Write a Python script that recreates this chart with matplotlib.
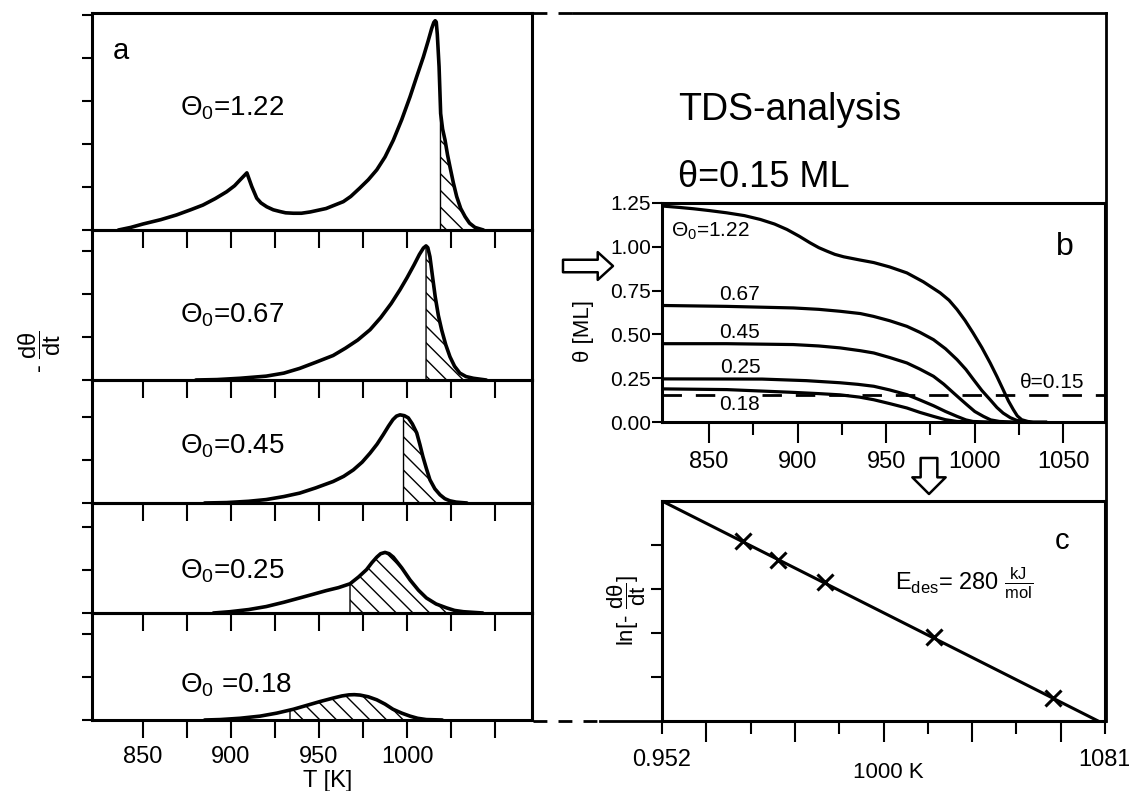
import numpy as np
import matplotlib.pyplot as plt
from matplotlib.lines import Line2D
from matplotlib.patches import FancyArrowPatch

plt.rcParams['font.family'] = ['Liberation Sans', 'DejaVu Sans']
plt.rcParams['mathtext.default'] = 'regular'
plt.rcParams['hatch.linewidth'] = 1.0

W, H = 1129, 791

# --- panel a: TDS spectra, -dθ/dt (arb. units) vs T [K]
coverages = ['1.22', '0.67', '0.45', '0.25', '0.18']
spec_T = [
    [836, 843, 850, 860, 869, 877, 884, 891, 897.5, 902, 905, 909, 911.8, 914.6, 917, 920.3, 924,
     927.8, 931, 935.4, 940, 945, 954, 963.8, 968, 973, 978, 982.8, 987.5, 992.2, 997, 1001.7,
     1005.5, 1009.3, 1012, 1014, 1015.2, 1016, 1016.6, 1017.2, 1018.2, 1019.1, 1020.2, 1021.6,
     1023, 1024.4, 1026.3, 1028.2, 1030.5, 1033, 1035.5, 1038.6, 1043.4],
    [880, 892, 905, 920, 930, 939, 948, 958, 965, 972, 979, 985, 991, 996, 1000, 1004, 1007,
     1009.3, 1010.8, 1011.8, 1013, 1014.5, 1016, 1017.8, 1019.7, 1022, 1024.4, 1027, 1030,
     1033.5, 1037.7, 1045],
    [885, 897.5, 910, 920, 930, 939, 948, 958, 964, 969.5, 974.5, 979, 983, 986.5, 989.5, 992,
     994, 996, 998.5, 1000.7, 1003, 1005.5, 1007.3, 1009, 1011, 1013, 1015.8, 1018.75, 1021.5,
     1024.4, 1028, 1034],
    [890, 899.4, 910, 920, 930, 939, 947, 954, 961, 967.6, 972.5, 977, 980, 982.8, 985, 987.5,
     989.8, 992.2, 997, 1001.7, 1006.5, 1011, 1016.5, 1022.4, 1027, 1032, 1043],
    [885, 893.8, 905, 916.5, 926, 935.4, 943, 950.6, 958, 963, 967, 970, 973.3, 978, 982.8,
     987.5, 992, 997, 1001.7, 1006, 1011, 1020],
]
spec_y = [
    [0, 0.06, 0.14, 0.24, 0.35, 0.47, 0.58, 0.73, 0.89, 1.03, 1.16, 1.33, 1.01, 0.74, 0.63, 0.54,
     0.47, 0.43, 0.40, 0.39, 0.39, 0.42, 0.50, 0.66, 0.78, 0.97, 1.17, 1.40, 1.70, 2.09, 2.57,
     3.10, 3.57, 4.03, 4.40, 4.69, 4.83, 4.87, 4.84, 4.55, 3.80, 2.71, 2.35, 2.09, 1.75, 1.47,
     1.10, 0.78, 0.50, 0.31, 0.16, 0.06, 0],
    [0, 0.01, 0.04, 0.09, 0.16, 0.27, 0.41, 0.57, 0.74, 0.93, 1.17, 1.45, 1.78, 2.10, 2.38, 2.68,
     2.92, 3.07, 3.12, 3.08, 2.87, 2.40, 1.94, 1.50, 1.16, 0.82, 0.54, 0.32, 0.16, 0.08, 0.04, 0],
    [0, 0.01, 0.04, 0.08, 0.15, 0.23, 0.35, 0.50, 0.62, 0.77, 0.95, 1.16, 1.37, 1.59, 1.79, 1.94,
     2.02, 2.05, 2.03, 1.98, 1.84, 1.63, 1.36, 1.08, 0.80, 0.54, 0.33, 0.19, 0.10, 0.05, 0.02, 0],
    [0, 0.03, 0.08, 0.15, 0.25, 0.35, 0.44, 0.52, 0.59, 0.68, 0.84, 1.01, 1.17, 1.30, 1.38, 1.41,
     1.38, 1.30, 1.05, 0.77, 0.53, 0.35, 0.21, 0.12, 0.06, 0.03, 0],
    [0, 0.01, 0.04, 0.09, 0.16, 0.25, 0.34, 0.43, 0.51, 0.56, 0.585, 0.59, 0.58, 0.54, 0.47,
     0.37, 0.25, 0.16, 0.09, 0.04, 0.01, 0],
]
# temperature where θ has dropped to 0.15 ML (start of hatched part)
hatch_from = [1019, 1010.8, 998, 967.6, 933.5]
panel_top = [5.05, 3.49, 2.86, 2.56, 2.49]

# --- panel b: coverage θ [ML] vs T [K]
cov_T = [
    [824.5, 833, 841.4, 850, 860, 870, 879, 887, 894, 901, 907, 912, 916.6, 921, 926, 935, 943,
     952, 961.7, 971, 980.5, 985.5, 990, 994.5, 999, 1004, 1008.7, 1012.5, 1016, 1019, 1021.8,
     1024, 1026.5, 1030, 1033, 1040],
    [824, 860, 897.6, 912, 924, 935.4, 942.8, 952, 961.7, 969, 976.7, 983.5, 990, 995, 999.3,
     1004, 1008.7, 1012.5, 1016, 1020, 1023.7, 1030],
    [824, 860, 897.6, 912, 924, 935.4, 943, 952, 961.7, 969, 976.7, 982.5, 988, 992, 995.5,
     1000, 1004.9, 1009, 1014, 1022],
    [824, 880, 905, 924, 934, 943, 952, 961.7, 969, 976.7, 983.5, 990, 995, 999, 1008],
    [824, 860, 897.8, 912, 924, 935, 943, 952, 961.7, 969, 976.7, 983.5, 990, 999],
]
cov_theta = [
    [1.232, 1.225, 1.217, 1.207, 1.194, 1.178, 1.156, 1.13, 1.099, 1.06, 1.023, 0.995, 0.975,
     0.957, 0.943, 0.925, 0.91, 0.885, 0.851, 0.80, 0.737, 0.695, 0.642, 0.58, 0.509, 0.425,
     0.337, 0.26, 0.185, 0.12, 0.07, 0.035, 0.013, 0.003, 0, 0],
    [0.665, 0.66, 0.651, 0.643, 0.632, 0.619, 0.603, 0.578, 0.546, 0.512, 0.47, 0.418, 0.356,
     0.30, 0.242, 0.18, 0.127, 0.083, 0.051, 0.025, 0.009, 0],
    [0.447, 0.447, 0.442, 0.434, 0.423, 0.407, 0.394, 0.368, 0.337, 0.302, 0.261, 0.216, 0.166,
     0.13, 0.099, 0.06, 0.032, 0.012, 0.003, 0],
    [0.246, 0.245, 0.236, 0.224, 0.215, 0.204, 0.183, 0.156, 0.126, 0.093, 0.06, 0.032, 0.012,
     0.003, 0],
    [0.189, 0.185, 0.169, 0.162, 0.155, 0.142, 0.127, 0.105, 0.08, 0.055, 0.032, 0.013, 0.003, 0],
]
theta_cut = 0.155

# --- panel c: Arrhenius plot at θ = 0.15 ML
arr_x = [0.9755, 0.9859, 0.9996, 1.0312, 1.0660]
arr_y = [4.10, 3.66, 3.17, 1.92, 0.52]
fit_x = [0.952, 1.079]
fit_y = [5.0, 0.0]


def fx(px):
    return px / W


def fy(py):
    return 1 - py / H


fig = plt.figure(figsize=(W / 100, H / 100), dpi=100)

gs = fig.add_gridspec(5, 1, left=fx(92), right=fx(532), top=fy(13), bottom=fy(720),
                      height_ratios=[217, 150, 123, 110, 107], hspace=0)
label_base = [2.67, 1.33, 1.16, 0.81, 0.63]
xt = np.arange(850, 1051, 25)
for i in range(5):
    ax = fig.add_subplot(gs[i])
    ax.patch.set_visible(False)
    T = np.array(spec_T[i])
    y = np.array(spec_y[i])
    ax.plot(T, y, color='k', lw=2.6, solid_capstyle='round', solid_joinstyle='round', zorder=3)
    tb = hatch_from[i]
    sel = T > tb
    tt = np.concatenate([[tb], T[sel]])
    yy = np.concatenate([[np.interp(tb, T, y)], y[sel]])
    ax.fill_between(tt, yy, 0, facecolor='none', edgecolor='k', hatch='\\\\', lw=1.0, zorder=2)
    ax.set_xlim(821, 1071)
    ax.set_ylim(0, panel_top[i])
    ax.set_yticks(range(0, int(panel_top[i]) + 1))
    ax.tick_params(axis='y', direction='out', length=7, width=1.5, labelleft=False)
    ax.set_xticks(xt)
    ax.tick_params(axis='x', direction='out', length=13, width=1.5, labelbottom=False)
    for s in ax.spines.values():
        s.set_linewidth(2.2)
    lab = 'Θ$_0$ =' + coverages[i] if i == 4 else 'Θ$_0$=' + coverages[i]
    ax.text(871, label_base[i], lab, fontsize=20, va='baseline', ha='left')
    if i == 0:
        ax.text(837.5, 4.16, 'a', fontsize=21, ha='center', va='center')
    if i == 4:
        ax.set_xticks(xt, [str(t) if t % 50 == 0 and t <= 1000 else '' for t in xt])
        ax.tick_params(axis='x', labelbottom=True, labelsize=17, pad=6)

fig.text(fx(40), fy(352), '- $\\dfrac{dθ}{dt}$', rotation=90, fontsize=17,
         ha='center', va='center')
fig.text(fx(328), fy(781), 'T [K]', fontsize=17, ha='center', va='center')

# --- panel b
axb = fig.add_axes([fx(662), fy(422), fx(1105) - fx(662), fy(203) - fy(422)])
axb.patch.set_visible(False)
for T, th in zip(cov_T, cov_theta):
    axb.plot(T, th, color='k', lw=2.3, solid_joinstyle='round', zorder=3)
axb.axhline(theta_cut, color='k', lw=2, ls=(0, (7, 5)), zorder=2)
axb.set_xlim(823.5, 1073.5)
axb.set_ylim(0, 1.25)
axb.set_yticks(np.arange(0, 1.26, 0.25), ['0.00', '0.25', '0.50', '0.75', '1.00', '1.25'])
axb.set_xticks(np.arange(850, 1051, 50))
axb.set_xticks(np.arange(875, 1026, 50), minor=True)
axb.tick_params(axis='y', direction='out', length=7, width=1.5, labelsize=15, pad=1)
axb.tick_params(axis='x', which='major', direction='out', length=15, width=1.5,
                labelsize=17, pad=6)
axb.tick_params(axis='x', which='minor', direction='out', length=9, width=1.5)
for s in axb.spines.values():
    s.set_linewidth(2.2)
axb.text(828.3, 1.06, 'Θ$_0$=1.22', fontsize=15, va='baseline')
for lab, yb in zip(coverages[1:], [0.699, 0.48, 0.28, 0.066]):
    kw = dict(fontsize=15, va='baseline', ha='center', zorder=2.5)
    if lab == '0.18':
        kw['bbox'] = dict(fc='white', ec='none', pad=1)
    axb.text(867.5, yb, lab, **kw)
axb.text(1025.6, 0.194, 'θ=0.15', fontsize=15, va='baseline')
axb.text(1051, 1.0, 'b', fontsize=23, ha='center', va='center')
fig.text(fx(584), fy(331), 'θ [ML]', rotation=90, fontsize=16, ha='center', va='center')

# --- panel c
axc = fig.add_axes([fx(662), fy(721), fx(1105) - fx(662), fy(501) - fy(721)])
axc.plot(fit_x, fit_y, color='k', lw=2.2)
axc.plot(arr_x, arr_y, 'x', color='k', ms=11, mew=2.2)
axc.set_xlim(0.952, 1.081)
axc.set_ylim(0, 5)
cx = np.linspace(0.952, 1.081, 11)
axc.set_xticks(cx[1::2])
axc.set_xticks(cx[0::2], ['0.952', '', '', '', '', '1081'], minor=True)
axc.tick_params(axis='x', which='major', direction='out', length=15, width=1.5, labelbottom=False)
axc.tick_params(axis='x', which='minor', direction='out', length=9, width=1.5,
                labelsize=17, pad=11)
axc.set_yticks([1, 2, 3, 4])
axc.tick_params(axis='y', direction='out', length=8, width=1.5, labelleft=False)
for s in axc.spines.values():
    s.set_linewidth(2.2)
axc.text(1.0685, 4.09, 'c', fontsize=21, ha='center', va='center')
axc.text(1.0399, 3.14, 'E$_{des}$= 280 $\\frac{kJ}{mol}$', fontsize=17, ha='center', va='center')
fig.text(fx(627), fy(610), 'ln[- $\\dfrac{dθ}{dt}$]', rotation=90, fontsize=16,
         ha='center', va='center')
fig.text(fx(888), fy(773), '1000 K', fontsize=16, ha='center', va='center')

# --- heading and frame of the analysis side
fig.text(fx(678), fy(120), 'TDS-analysis', fontsize=27, va='baseline')
fig.text(fx(678), fy(187), 'θ=0.15 ML', fontsize=26, va='baseline')

dash = (0, (5, 4))
fig.add_artist(Line2D([fx(533), fx(573)], [fy(12.5), fy(12.5)], color='k', lw=2, ls=dash))
fig.add_artist(Line2D([fx(573), fx(1106)], [fy(12.5), fy(12.5)], color='k', lw=2))
fig.add_artist(Line2D([fx(1106), fx(1106)], [fy(12.5), fy(721)], color='k', lw=2))
fig.add_artist(Line2D([fx(533), fx(600)], [fy(720.5), fy(720.5)], color='k', lw=2, ls=dash))
fig.add_artist(Line2D([fx(600), fx(662)], [fy(720.5), fy(720.5)], color='k', lw=2))

fig.add_artist(FancyArrowPatch((fx(563), fy(266)), (fx(613), fy(266)),
                               transform=fig.transFigure,
                               arrowstyle='simple,head_length=0.55,head_width=1.0,tail_width=0.45',
                               mutation_scale=20, fc='white', ec='black', lw=1.8,
                               shrinkA=0, shrinkB=0))
fig.add_artist(FancyArrowPatch((fx(929), fy(458)), (fx(929), fy(494)),
                               transform=fig.transFigure,
                               arrowstyle='simple,head_length=0.6,head_width=1.2,tail_width=0.6',
                               mutation_scale=20, fc='white', ec='black', lw=1.8,
                               shrinkA=0, shrinkB=0))

fig.savefig('out.png', dpi=100)
